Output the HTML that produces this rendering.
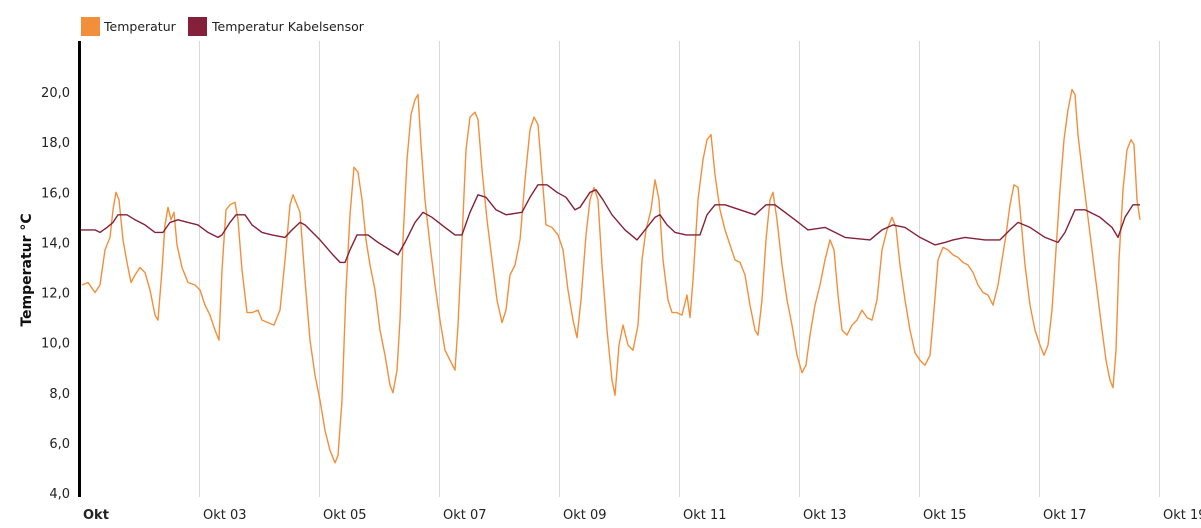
<!DOCTYPE html>
<html><head><meta charset="utf-8">
<style>
body{margin:0;background:#fff;}
svg{display:block;font-family:"DejaVu Sans","Liberation Sans",sans-serif;}
</style></head>
<body>
<svg id="chart" width="1201" height="528" viewBox="0 0 1201 528" xmlns="http://www.w3.org/2000/svg">
<g>
  <g>
    <rect x="81" y="17" width="19" height="19" fill="#f28f3b"/>
    <text x="104" y="31" font-size="12.5" fill="#222">Temperatur</text>
  </g>
  <g>
    <rect x="188" y="17" width="19" height="19" fill="#85203a"/>
    <text x="212" y="31" font-size="12.5" fill="#222">Temperatur Kabelsensor</text>
  </g>
</g>
<text transform="translate(31,270) rotate(-90)" text-anchor="middle" font-size="14" font-weight="bold" fill="#111">Temperatur °C</text>
<g id="grid"></g>
<g id="yticks"></g>
<g id="xticks"></g>
<g id="series"></g>
<line x1="79.5" y1="41" x2="79.5" y2="497" stroke="#000" stroke-width="3"/>
</svg>
<script>
const yTickValues = [4,6,8,10,12,14,16,18,20];
const yTickLabels = ["4,0","6,0","8,0","10,0","12,0","14,0","16,0","18,0","20,0"];
const xTickHours = [0,48,96,144,192,240,288,336,384,432];
const xTickLabels = ["Okt","Okt 03","Okt 05","Okt 07","Okt 09","Okt 11","Okt 13","Okt 15","Okt 17","Okt 19"];
const tempHours = [1.0,3.4,6.2,8.2,10.2,12.2,13.4,14.6,15.8,17.4,19.0,20.6,22.2,24.2,26.2,28.2,30.2,31.4,33.0,34.2,35.4,36.6,37.8,39.0,41.0,43.4,46.2,48.2,50.2,52.2,54.2,55.8,57.0,58.6,60.2,62.2,63.4,65.0,67.0,69.0,71.4,73.0,75.4,77.8,80.2,82.2,84.2,85.4,87.0,88.2,90.2,92.2,94.2,96.2,98.2,100.2,102.2,103.4,105.0,106.6,108.2,109.8,111.4,113.0,114.6,116.2,118.2,120.2,122.2,124.2,125.4,127.0,128.2,129.4,131.0,132.6,134.2,135.4,136.6,138.2,140.2,142.2,144.2,146.2,148.2,150.2,151.4,153.0,154.6,156.2,158.2,159.4,161.0,163.0,165.0,167.0,169.0,170.6,172.2,174.2,176.2,178.2,180.2,181.8,183.4,185.0,186.6,189.0,191.4,193.4,195.4,197.4,199.0,200.6,202.6,204.2,205.8,207.4,209.0,211.0,213.0,214.2,215.8,217.4,219.4,221.4,223.4,225.0,226.6,228.6,230.2,231.8,233.4,235.4,237.0,239.0,241.0,243.0,244.2,245.4,247.4,249.4,251.0,252.6,254.2,256.2,258.2,260.2,262.2,264.2,266.2,268.2,270.2,271.4,273.0,274.6,276.2,277.4,279.0,281.0,283.0,285.0,287.0,289.0,290.6,292.2,294.2,296.2,298.2,300.2,301.8,303.4,305.0,307.0,309.0,311.0,313.0,315.0,317.0,319.0,321.0,323.0,325.0,326.6,328.2,330.2,332.2,334.2,336.2,338.2,340.2,341.8,343.4,345.4,347.4,349.4,351.4,353.4,355.4,357.4,359.4,361.4,363.4,365.4,367.4,369.0,370.6,372.2,373.8,375.4,376.6,378.2,380.2,382.2,384.2,385.8,387.4,389.0,390.6,392.2,393.8,395.4,397.0,398.2,399.4,401.0,403.0,405.0,407.0,409.0,410.6,412.2,413.4,414.6,415.8,417.4,419.0,420.6,421.8,423.0,424.2];
const tempValues = [12.3,12.4,12.0,12.3,13.7,14.2,15.3,16.0,15.7,14.1,13.2,12.4,12.7,13.0,12.8,12.1,11.1,10.9,12.9,14.7,15.4,14.9,15.2,13.9,13.0,12.4,12.3,12.1,11.5,11.1,10.5,10.1,12.9,15.3,15.5,15.6,14.9,12.9,11.2,11.2,11.3,10.9,10.8,10.7,11.3,13.3,15.5,15.9,15.5,15.2,12.5,10.1,8.7,7.7,6.5,5.7,5.2,5.5,7.7,12.1,15.1,17.0,16.8,15.7,14.1,13.1,12.1,10.5,9.5,8.3,8.0,8.9,10.9,14.1,17.3,19.1,19.7,19.9,17.9,15.7,13.9,12.3,10.9,9.7,9.3,8.9,10.7,14.1,17.7,19.0,19.2,18.9,16.9,14.9,13.3,11.7,10.8,11.3,12.7,13.1,14.1,16.5,18.5,19.0,18.7,16.7,14.7,14.6,14.3,13.7,12.1,10.9,10.2,11.7,14.3,15.7,16.2,15.7,13.1,10.5,8.5,7.9,9.9,10.7,9.9,9.7,10.7,13.3,14.5,15.3,16.5,15.7,13.3,11.7,11.2,11.2,11.1,11.9,11.0,12.5,15.7,17.3,18.1,18.3,16.7,15.3,14.5,13.9,13.3,13.2,12.7,11.5,10.5,10.3,11.7,14.1,15.7,16.0,14.9,13.1,11.7,10.7,9.5,8.8,9.1,10.3,11.5,12.3,13.3,14.1,13.7,11.9,10.5,10.3,10.7,10.9,11.3,11.0,10.9,11.7,13.7,14.5,15.0,14.6,13.1,11.7,10.5,9.6,9.3,9.1,9.5,11.3,13.3,13.8,13.7,13.5,13.4,13.2,13.1,12.8,12.3,12.0,11.9,11.5,12.3,13.3,14.3,15.5,16.3,16.2,14.9,13.1,11.5,10.5,9.9,9.5,9.9,11.3,13.7,16.1,18.1,19.3,20.1,19.9,18.3,16.9,15.3,13.7,12.1,10.5,9.3,8.5,8.2,9.7,13.3,16.1,17.7,18.1,17.9,15.7,14.9];
const cableHours = [0.2,6.2,8.2,11.0,13.4,15.4,19.0,22.2,26.2,30.2,33.4,36.2,39.4,43.4,47.4,51.4,55.4,57.0,60.2,62.6,66.2,69.0,73.0,77.0,82.2,85.0,88.2,90.2,96.2,101.4,104.2,106.2,108.2,111.0,115.4,119.4,124.2,127.4,130.2,134.2,137.4,141.0,146.2,150.2,153.0,156.2,159.4,162.6,166.6,170.6,177.0,180.2,183.4,187.0,191.0,194.6,198.2,200.2,204.2,206.6,209.4,213.0,218.2,223.0,226.2,230.2,232.2,235.0,238.2,242.6,248.2,251.0,254.2,258.2,264.2,270.2,274.6,278.2,282.2,286.2,291.4,298.2,302.2,306.2,316.2,321.0,325.4,330.2,336.2,342.2,346.2,349.4,354.2,362.2,368.2,372.2,375.4,380.2,386.2,391.4,394.2,398.2,402.2,408.2,413.0,415.4,418.2,421.4,424.2];
const cableValues = [14.5,14.5,14.4,14.6,14.8,15.1,15.1,14.9,14.7,14.4,14.4,14.8,14.9,14.8,14.7,14.4,14.2,14.3,14.8,15.1,15.1,14.7,14.4,14.3,14.2,14.5,14.8,14.7,14.1,13.5,13.2,13.2,13.7,14.3,14.3,14.0,13.7,13.5,14.0,14.8,15.2,15.0,14.6,14.3,14.3,15.2,15.9,15.8,15.3,15.1,15.2,15.8,16.3,16.3,16.0,15.8,15.3,15.4,16.0,16.1,15.7,15.1,14.5,14.1,14.5,15.0,15.1,14.7,14.4,14.3,14.3,15.1,15.5,15.5,15.3,15.1,15.5,15.5,15.2,14.9,14.5,14.6,14.4,14.2,14.1,14.5,14.7,14.6,14.2,13.9,14.0,14.1,14.2,14.1,14.1,14.5,14.8,14.6,14.2,14.0,14.4,15.3,15.3,15.0,14.6,14.2,15.0,15.5,15.5];

const NS = "http://www.w3.org/2000/svg";
const X0 = 79.5, PX_PER_HOUR = 2.5, Y0 = 493, PX_PER_DEG = 25.06;
function xScale(h){ return X0 + h * PX_PER_HOUR; }
function yScale(v){ return Y0 - (v - 4) * PX_PER_DEG; }

const grid = document.getElementById('grid');
const xt = document.getElementById('xticks');
xTickHours.forEach((h,i)=>{
  const x = xScale(h);
  if(i>0){
    const l = document.createElementNS(NS,'line');
    l.setAttribute('x1',x); l.setAttribute('x2',x);
    l.setAttribute('y1',41); l.setAttribute('y2',497);
    l.setAttribute('stroke','#d9d9d9'); l.setAttribute('stroke-width','1');
    
    
    grid.appendChild(l);
  }
  const t = document.createElementNS(NS,'text');
  t.setAttribute('x', x + 3.5); t.setAttribute('y', 519);
  t.setAttribute('font-size','13'); t.setAttribute('fill','#222');
  if(i===0) t.setAttribute('font-weight','bold');
  t.textContent = xTickLabels[i];
  
  
  xt.appendChild(t);
});
const yt = document.getElementById('yticks');
yTickValues.forEach((v,i)=>{
  const t = document.createElementNS(NS,'text');
  t.setAttribute('x', 70); t.setAttribute('y', yScale(v) + 5);
  t.setAttribute('text-anchor','end');
  t.setAttribute('font-size','13'); t.setAttribute('fill','#222');
  t.textContent = yTickLabels[i];
  
  
  yt.appendChild(t);
});
function drawLine(hours, vals, color, name){
  const p = document.createElementNS(NS,'path');
  let d = '';
  hours.forEach((h,i)=>{ d += (i?'L':'M') + xScale(h).toFixed(1) + ',' + yScale(vals[i]).toFixed(1); });
  p.setAttribute('d', d);
  p.setAttribute('fill','none'); p.setAttribute('stroke', color);
  p.setAttribute('stroke-width','1.4'); p.setAttribute('stroke-linejoin','round');
  
  
  document.getElementById('series').appendChild(p);
}
drawLine(tempHours, tempValues, '#f28f3b', 'temperatur-line');
drawLine(cableHours, cableValues, '#85203a', 'kabelsensor-line');
</script>
</body></html>
